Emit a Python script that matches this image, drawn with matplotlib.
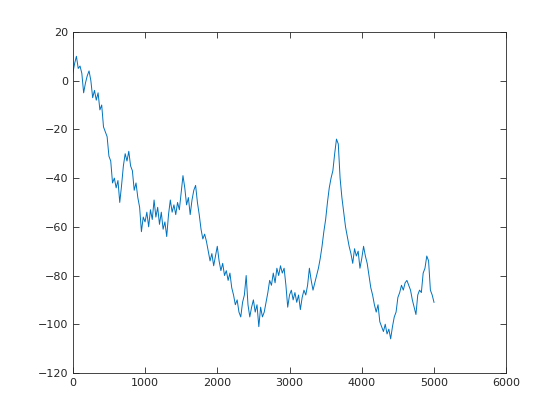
import numpy as np
import matplotlib
matplotlib.use('Agg')
import matplotlib.pyplot as plt

# 随机游走曲线，每 25 步读一个值
step = 25
walk = [
    3, 7, 10, 5, 6, 3, -5, -1, 2, 4, 0, -7, -4, -8, -5, -12, -10, -19, -21, -23,
    -31, -33, -42, -40, -44, -41, -50, -43, -35, -30, -33, -29, -35, -37, -45, -42,
    -48, -52, -62, -56, -58, -54, -60, -53, -57, -49, -56, -52, -59, -54, -61, -58,
    -64, -55, -49, -54, -51, -55, -50, -53, -46, -39, -44, -51, -48, -55, -49, -45,
    -43, -50, -55, -61, -65, -63, -66, -70, -74, -71, -76, -72, -68, -74, -78, -75,
    -80, -78, -82, -79, -85, -88, -92, -90, -95, -97, -91, -88, -80, -92, -97, -93,
    -90, -95, -92, -101, -93, -97, -95, -91, -87, -82, -84, -79, -83, -77, -80, -76,
    -79, -77, -84, -93, -88, -86, -90, -87, -91, -88, -94, -89, -86, -88, -84, -77,
    -82, -86, -83, -80, -77, -73, -68, -62, -57, -50, -44, -40, -37, -30, -24, -26,
    -40, -48, -54, -60, -64, -68, -71, -75, -69, -72, -70, -77, -73, -68, -72, -75,
    -80, -85, -88, -92, -95, -92, -99, -101, -103, -100, -104, -102, -106, -101, -97, -95,
    -89, -87, -84, -86, -83, -82, -84, -86, -90, -93, -96, -88, -86, -87, -79, -77,
    -72, -74, -86, -88, -91,
]
x = np.arange(len(walk)) * step

xticks = [0, 1000, 2000, 3000, 4000, 5000, 6000]
yticks = [-120, -100, -80, -60, -40, -20, 0, 20]

fig = plt.figure(figsize=(5.6, 4.2), dpi=100)
ax = fig.add_axes([0.130, 0.112, 0.774, 0.812])
ax.plot(x, walk, color='#0072BD', linewidth=0.7)

ax.set_xlim(0, 6000)
ax.set_ylim(-120, 20)
ax.set_xticks(xticks)
ax.set_yticks(yticks)
ax.tick_params(direction='in', length=4, width=0.6, labelsize=8, colors='#262626',
               top=True, right=True)
for s in ax.spines.values():
    s.set_linewidth(0.6)
    s.set_color('#262626')

plt.savefig('out.png', dpi=100)
